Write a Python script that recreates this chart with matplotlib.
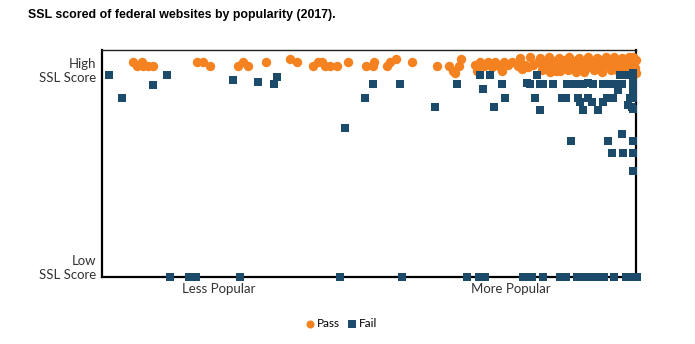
import matplotlib

matplotlib.use("Agg")
import matplotlib.pyplot as plt

# popularity rank (0 = least popular, 534 = most popular) and SSL score (0-100)
pass_rank = [31, 35, 40, 41, 46, 51, 95, 101, 108, 136, 141, 146, 164, 188, 195,
             211, 216, 220, 223, 228, 235, 246, 264, 271, 272, 285, 288, 294, 310,
             335, 347, 351, 353, 357, 359,
             373, 375, 378, 382, 386, 390, 393, 397, 400, 402, 406, 410, 416, 420,
             423, 426, 431, 436, 440, 443, 446, 449, 452, 454, 456, 458, 460, 463,
             466, 469, 472, 475, 478, 481, 484, 487, 490, 493, 496, 499, 502, 505,
             508, 510, 513, 516, 519, 521, 524, 526, 528, 530, 532, 533, 534,
             418, 428, 438, 447, 457, 467, 477, 486, 495, 504, 512, 520, 527, 531,
             440, 448, 466, 474, 482, 492, 500, 509, 517, 523, 530, 534]
pass_score = [94.7, 93, 94.7, 93, 93, 93, 94.7, 94.7, 93, 93, 94.7, 93, 94.7, 96, 94.7,
              93, 94.7, 94.7, 93, 93, 93, 94.7, 93, 93, 94.7, 93, 94.7, 95.9, 94.7,
              93, 93, 90.9, 89.7, 93, 95.9,
              93.5, 90.9, 94.7, 93, 94.7, 92.5, 94.7, 93, 90.9, 94.7, 93.5, 94.7, 93, 91.5,
              93.5, 92.5, 93.5, 94.7, 93.5, 94.7, 93, 95.5, 93, 90.9, 94.7, 90.9, 93, 95.5,
              93, 94, 92.5, 95.5, 93, 94.7, 92, 95.5, 93, 94.7, 92, 95.5, 93.5, 94.7,
              92.5, 95.5, 93, 94.7, 92, 95.5, 93.5, 91.5, 95.5, 93, 94.7, 92, 95.5,
              96.5, 96.8, 96.5, 97, 96.5, 96.8, 96.5, 97, 96.5, 96.8, 97, 96.5, 97, 96.8,
              91, 90.5, 91, 90.5, 90.5, 91, 90.5, 91, 90.5, 90.5, 91, 90]

fail_rank = [7, 20, 51, 65, 131, 156, 172, 175, 243, 263, 271, 298, 333, 355,
             378, 388, 381, 392, 400, 403, 425, 428, 435, 438, 441, 451, 433, 438,
             460, 464, 465, 468, 475, 481, 486, 491, 476, 478, 486, 490, 501, 505,
             511, 481, 496, 469, 501, 508, 515, 520, 516, 518, 523, 528, 531, 531,
             531, 531, 528, 531, 526, 530, 531, 520, 506, 531, 510, 521, 531, 531,
             68, 87, 90, 94, 138, 238, 300, 365, 377, 383, 421, 426, 430, 441, 458,
             464, 475, 479, 484, 488, 493, 497, 502, 512, 524, 528, 533, 535]
fail_score = [88.9, 78.7, 84.7, 88.9, 86.8, 85.8, 84.9, 88.2, 65.8, 78.7, 84.9, 84.9, 74.8, 84.9,
              89, 89, 82.7, 74.8, 84.9, 78.7, 85.6, 84.9, 89, 84.9, 84.9, 84.9, 78.7, 73.7,
              78.7, 78.7, 84.9, 84.9, 84.9, 84.9, 85.6, 84.9, 78.7, 77.2, 78.7, 77.2, 77.2, 78.7,
              78.7, 73.7, 73.7, 59.9, 84.9, 84.9, 84.9, 84.9, 82.4, 89, 89, 89, 89.7, 86.8,
              83.8, 82.4, 78.7, 78.7, 75.8, 75, 73.9, 62.9, 59.9, 59.9, 54.8, 54.8, 54.8, 46.8,
              0, 0, 0, 0, 0, 0, 0, 0, 0, 0, 0, 0, 0, 0, 0,
              0, 0, 0, 0, 0, 0, 0, 0, 0, 0, 0, 0, 0]

x_ticks = [117, 409]
x_labels = ["Less Popular", "More Popular"]
y_ticks = [4.8, 91.6]
y_labels = ["Low\nSSL Score", "High\nSSL Score"]

ORANGE = "#F58220"
BLUE = "#1B4A6B"

plt.rcParams["font.family"] = ["Lato", "DejaVu Sans"]

fig = plt.figure(figsize=(6.95, 3.44), dpi=100)
ax = fig.add_axes([0.1468, 0.1948, 0.7683, 0.6599])

ax.scatter(pass_rank, pass_score, s=46, marker="o", color=ORANGE, linewidths=0,
           clip_on=False, zorder=3, label="Pass")
ax.scatter(fail_rank, fail_score, s=40, marker="s", color=BLUE, linewidths=0,
           clip_on=False, zorder=4, label="Fail")

ax.set_xlim(0, 534)
ax.set_ylim(0, 100)
ax.set_xticks(x_ticks, x_labels)
ax.set_yticks(y_ticks, y_labels)
ax.tick_params(length=0, labelsize=9.5, colors="#333333", pad=4)
for lbl in ax.get_yticklabels():
    lbl.set_horizontalalignment("right")
    lbl.set_multialignment("right")

for side in ["left", "bottom", "right"]:
    ax.spines[side].set_linewidth(1.6)
    ax.spines[side].set_color("black")
ax.spines["top"].set_linewidth(1.0)
ax.spines["top"].set_color("#222222")

fig.text(0.04, 0.955, "SSL scored of federal websites by popularity (2017).",
         fontsize=8.9, fontweight="bold", family=["Liberation Sans", "DejaVu Sans"],
         va="center", ha="left", color="black")

fig.legend(loc="center", bbox_to_anchor=(0.49, 0.06), ncol=2, frameon=False,
           fontsize=8.5, handletextpad=0.1, columnspacing=0.5, markerscale=0.85,
           handlelength=1.0)

fig.savefig("out.png", dpi=100)
